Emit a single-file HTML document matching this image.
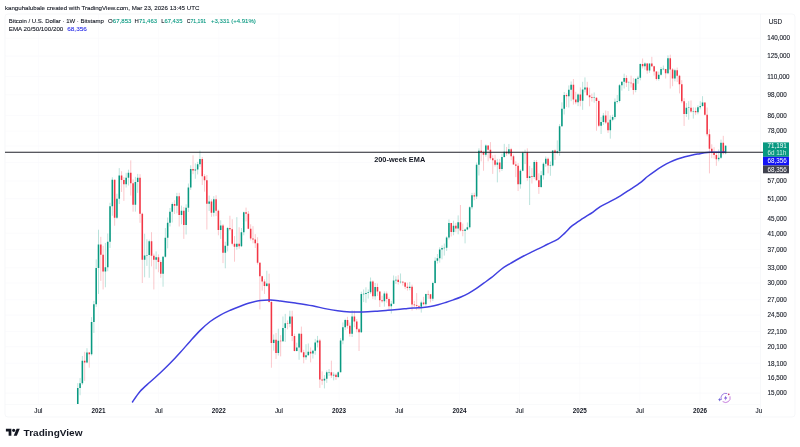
<!DOCTYPE html>
<html lang="en">
<head>
<meta charset="utf-8">
<title>BTCUSD 1W chart</title>
<style>
html,body{margin:0;padding:0;background:#fff;}
body{width:800px;height:447px;overflow:hidden;font-family:"Liberation Sans",sans-serif;}
svg{display:block;}
text{font-family:"Liberation Sans",sans-serif;}
.ax{font-size:6.3px;fill:#131722;stroke:#131722;stroke-width:0.1px;}
.axb{font-size:6.3px;fill:#131722;font-weight:bold;}
.lg{font-size:6.05px;fill:#131722;stroke:#131722;stroke-width:0.1px;}
.lg .g,.lg.g{stroke:#089981;}
.g{fill:#089981;}
.grid line{stroke:#f8f9fb;stroke-width:0.6;}
</style>
</head>
<body>
<svg width="800" height="447" viewBox="0 0 800 447">
<rect width="800" height="447" fill="#ffffff"/>
<!-- chart frame -->
<rect x="5" y="14" width="790" height="403" rx="3" ry="3" fill="#ffffff" stroke="#f2f3f7" stroke-width="0.7"/>
<!-- grid -->
<g class="grid">
<line x1="5" y1="38.20" x2="760" y2="38.20"/>
<line x1="5" y1="56.21" x2="760" y2="56.21"/>
<line x1="5" y1="76.52" x2="760" y2="76.52"/>
<line x1="5" y1="94.88" x2="760" y2="94.88"/>
<line x1="5" y1="115.63" x2="760" y2="115.63"/>
<line x1="5" y1="131.15" x2="760" y2="131.15"/>
<line x1="5" y1="146.09" x2="760" y2="146.09"/>
<line x1="5" y1="162.58" x2="760" y2="162.58"/>
<line x1="5" y1="180.99" x2="760" y2="180.99"/>
<line x1="5" y1="198.66" x2="760" y2="198.66"/>
<line x1="5" y1="218.55" x2="760" y2="218.55"/>
<line x1="5" y1="233.34" x2="760" y2="233.34"/>
<line x1="5" y1="249.65" x2="760" y2="249.65"/>
<line x1="5" y1="267.83" x2="760" y2="267.83"/>
<line x1="5" y1="282.98" x2="760" y2="282.98"/>
<line x1="5" y1="299.72" x2="760" y2="299.72"/>
<line x1="5" y1="315.16" x2="760" y2="315.16"/>
<line x1="5" y1="331.54" x2="760" y2="331.54"/>
<line x1="5" y1="346.61" x2="760" y2="346.61"/>
<line x1="5" y1="363.27" x2="760" y2="363.27"/>
<line x1="5" y1="377.97" x2="760" y2="377.97"/>
<line x1="5" y1="393.12" x2="760" y2="393.12"/>
<line x1="38.35" y1="14" x2="38.35" y2="404"/>
<line x1="98.50" y1="14" x2="98.50" y2="404"/>
<line x1="158.65" y1="14" x2="158.65" y2="404"/>
<line x1="218.80" y1="14" x2="218.80" y2="404"/>
<line x1="278.95" y1="14" x2="278.95" y2="404"/>
<line x1="339.10" y1="14" x2="339.10" y2="404"/>
<line x1="399.25" y1="14" x2="399.25" y2="404"/>
<line x1="459.40" y1="14" x2="459.40" y2="404"/>
<line x1="519.55" y1="14" x2="519.55" y2="404"/>
<line x1="579.70" y1="14" x2="579.70" y2="404"/>
<line x1="639.85" y1="14" x2="639.85" y2="404"/>
<line x1="700.00" y1="14" x2="700.00" y2="404"/>
</g>
<line x1="760.5" y1="14" x2="760.5" y2="417" stroke="#f1f3f7" stroke-width="0.6"/>
<line x1="5" y1="404.5" x2="760" y2="404.5" stroke="#f5f6f9" stroke-width="0.6"/>
<!-- candles -->
<g>
<path d="M77.75 383.16V404.00M80.06 378.17V395.25M82.36 355.97V384.86M86.97 348.20V363.27M91.58 317.12V355.56M93.89 300.90V332.98M96.19 259.39V306.94M98.50 229.70V293.94M105.42 242.93V287.27M107.72 233.53V271.24M110.03 202.76V247.94M112.33 177.27V215.75M116.94 193.75V218.90M119.25 168.14V204.05M126.17 172.84V187.53M128.47 169.69V185.51M135.39 176.86V211.64M137.69 173.90V192.85M144.61 233.73V277.25M146.92 239.26V265.92M149.22 239.67V277.77M156.14 251.38V269.28M163.05 256.23V286.73M165.36 228.01V257.58M167.66 217.49V248.37M169.97 207.96V226.51M172.28 202.44V222.48M176.89 192.85V213.34M181.50 205.67V224.30M186.11 204.37V234.51M188.41 183.52V211.98M190.72 165.34V189.87M195.33 163.33V178.77M197.64 161.84V174.43M199.94 150.63V166.86M209.16 195.57V210.96M213.77 196.19V216.44M220.69 220.32V238.86M225.30 241.69V268.31M227.61 226.88V251.38M236.83 217.14V249.65M241.44 228.01V247.10M243.75 211.64V235.29M266.80 270.75V286.73M273.72 334.44V350.62M278.33 328.69V355.56M282.94 316.46V341.94M285.25 313.87V341.94M289.86 310.68V327.28M296.77 342.71V351.43M299.08 332.98V359.79M306.00 344.26V359.79M308.30 343.48V355.56M312.91 349.81V358.51M315.22 338.90V354.72M317.52 335.91V347.41M324.44 375.11V388.42M326.74 370.45V382.86M329.05 369.08V376.06M333.66 372.30V380.40M338.27 371.37V377.97M340.58 338.15V372.30M342.88 322.46V344.26M345.19 318.77V330.11M352.11 310.37V337.03M361.33 291.69V332.98M363.63 289.46V302.09M365.94 287.27V302.69M368.24 289.46V298.55M370.55 277.51V293.94M375.16 282.98V299.72M384.38 291.41V306.63M391.30 300.90V313.54M393.60 275.48V304.19M395.91 276.24V284.04M400.52 273.47V283.51M409.74 281.92V290.29M421.27 300.60V312.58M425.88 293.66V305.72M432.80 281.66V300.90M435.10 257.35V283.51M437.41 254.01V263.56M439.71 247.31V262.62M442.02 245.41V259.39M444.32 243.54V255.56M446.63 236.27V250.95M448.94 219.43V239.46M453.55 220.68V235.29M458.16 215.40V234.31M465.07 228.57V243.34M467.38 222.48V230.27M469.69 206.32V228.57M471.99 192.85V209.29M476.60 162.58V198.97M478.91 148.34V175.51M485.82 144.42V156.73M497.35 158.90V182.39M501.96 153.65V170.86M504.27 143.86V157.69M508.88 143.98V154.59M520.41 169.17V188.70M522.71 151.78V171.25M525.02 149.71V164.08M529.63 165.84V205.02M534.24 160.12V178.77M541.16 171.12V187.97M543.46 162.33V179.60M545.77 156.49V166.73M550.38 161.47V175.78M552.68 150.56V166.35M557.29 140.37V154.12M559.60 124.17V155.78M561.91 102.34V126.73M564.21 91.98V114.53M568.82 85.43V107.53M571.13 81.51V101.16M578.04 93.42V106.13M582.65 81.81V109.83M584.96 77.39V92.46M594.18 92.46V102.69M601.10 116.93V134.02M603.40 112.88V124.95M610.32 115.45V138.65M612.63 114.71V121.27M614.93 98.48V119.37M617.24 95.04V103.54M619.54 84.06V102.51M621.85 81.51V90.56M624.15 73.66V88.52M628.76 81.21V91.03M635.68 78.70V92.30M637.99 75.80V83.76M640.29 63.36V80.32M644.90 62.30V69.87M649.51 63.49V72.81M658.74 71.68V80.62M661.04 66.99V75.66M663.35 65.50V70.29M667.96 55.32V74.23M674.88 68.77V81.36M686.40 103.03V116.93M688.71 101.16V119.75M693.32 107.35V118.62M697.93 105.26V114.34M700.24 101.16V109.29M702.54 96.18V106.83M718.68 149.48V161.34M720.99 139.62V158.90M725.60 145.05V154.27" stroke="#089981" stroke-width="0.45" fill="none" opacity="0.62"/>
<path d="M77.75 388.11V404.00M80.06 383.26V388.11M82.36 360.65V383.26M86.97 352.57V362.57M91.58 321.98V354.14M93.89 304.19V321.98M96.19 267.88V304.19M98.50 244.58V267.88M105.42 267.35V271.39M107.72 241.82V267.35M110.03 206.32V241.82M112.33 179.87V206.32M116.94 198.66V217.84M119.25 175.51V198.66M126.17 177.68V184.37M128.47 172.84V177.68M135.39 182.11V204.69M137.69 177.68V182.11M144.61 255.56V259.85M146.92 254.89V255.56M149.22 241.29V254.89M156.14 257.13V259.85M163.05 256.68V273.72M165.36 237.86V256.68M167.66 222.84V237.86M169.97 211.64V222.84M172.28 204.05V211.64M176.89 196.34V205.67M181.50 210.80V215.06M186.11 207.63V225.03M188.41 187.53V207.63M190.72 168.91V187.53M195.33 169.43V170.47M197.64 164.33V169.43M199.94 158.90V164.33M209.16 201.49V203.72M213.77 199.28V212.66M220.69 225.40V229.89M225.30 245.83V252.69M227.61 228.01V245.83M236.83 243.75V246.67M241.44 232.18V246.25M243.75 212.32V232.18M266.80 283.51V285.92M273.72 339.65V343.09M278.33 340.79V353.07M282.94 327.98V341.17M285.25 323.14V327.98M289.86 316.46V323.82M296.77 347.41V351.02M299.08 333.71V347.41M306.00 355.14V357.24M308.30 351.84V355.14M312.91 350.86V353.40M315.22 342.48V350.86M317.52 340.41V342.48M324.44 378.65V380.40M326.74 372.30V378.65M329.05 372.08V372.52M333.66 374.83V375.58M338.27 372.30V377.01M340.58 340.56V372.30M342.88 327.28V340.56M345.19 320.10V327.28M352.11 316.46V333.86M361.33 293.94V332.26M363.63 293.72V294.16M365.94 292.98V293.94M368.24 292.13V292.98M370.55 281.40V292.13M375.16 287.00V296.23M384.38 293.54V301.20M391.30 303.65V306.14M393.60 280.51V303.65M395.91 279.73V280.51M400.52 281.70V282.14M409.74 286.84V288.09M421.27 302.51V306.76M425.88 294.00V304.19M432.80 283.03V298.78M435.10 260.77V283.03M437.41 258.35V260.77M439.71 249.39V258.35M442.02 248.11V249.39M444.32 247.70V248.14M446.63 237.38V247.73M448.94 222.88V237.38M453.55 225.77V231.91M458.16 222.34V228.46M465.07 229.40V231.11M467.38 227.33V229.40M469.69 207.30V227.33M471.99 195.15V207.30M476.60 164.73V196.40M478.91 150.72V164.73M485.82 145.46V154.76M497.35 162.56V164.81M501.96 157.02V168.96M504.27 151.78V157.02M508.88 149.16V153.53M520.41 170.73V184.20M522.71 152.57V170.73M525.02 152.24V152.68M529.63 176.26V177.89M534.24 162.04V177.05M541.16 175.16V187.04M543.46 163.63V175.16M545.77 158.66V163.63M550.38 165.25V165.69M552.68 150.56V165.41M557.29 151.13V153.09M559.60 126.33V151.13M561.91 108.67V126.33M564.21 94.88V108.67M568.82 89.77V96.18M571.13 84.67V89.77M578.04 94.39V102.18M582.65 89.61V100.65M584.96 87.59V89.61M594.18 97.60V98.04M601.10 122.04V125.74M603.40 115.45V122.04M610.32 119.84V130.33M612.63 117.12V119.84M614.93 101.84V117.12M617.24 100.99V101.84M619.54 85.28V100.99M621.85 81.66V85.28M624.15 77.97V81.66M628.76 82.64V83.08M635.68 78.85V90.08M637.99 77.68V78.85M640.29 63.89V77.68M644.90 63.49V66.31M649.51 63.62V70.57M658.74 74.87V79.07M661.04 69.04V74.87M663.35 68.82V69.26M667.96 58.13V73.37M674.88 70.15V78.41M686.40 107.70V113.98M688.71 107.48V107.92M693.32 110.90V111.62M697.93 107.18V112.34M700.24 105.95V107.18M702.54 102.51V105.95M718.68 157.69V159.14M720.99 142.63V157.69M725.60 145.66V153.29" stroke="#089981" stroke-width="1.55" fill="none"/>
<path d="M84.67 351.84V380.89M89.28 352.08V367.72M100.81 236.87V280.87M103.11 245.83V289.46M114.64 179.60V225.77M121.56 171.25V191.95M123.86 177.13V200.86M130.78 160.36V195.57M133.08 179.32V211.64M140.00 174.17V222.84M142.30 212.66V282.98M151.53 232.18V266.39M153.83 253.57V289.46M158.44 254.45V272.23M160.75 260.31V277.77M174.58 200.23V214.02M179.19 192.85V226.51M183.80 206.97V238.86M193.03 155.30V174.17M202.25 156.97V184.94M204.55 174.17V191.65M206.86 174.97V229.51M211.47 199.28V216.79M216.08 195.27V216.10M218.39 209.62V235.29M223.00 223.94V263.09M229.91 215.75V230.65M232.22 219.26V245.41M234.52 236.08V261.69M239.14 227.26V248.80M246.05 207.63V221.40M248.36 210.96V229.13M250.66 224.30V240.47M252.97 226.14V243.34M255.27 234.12V247.94M257.58 237.26V264.50M259.88 262.16V309.43M262.19 275.73V290.57M264.50 279.31V293.94M269.11 273.72V302.69M271.41 299.72V367.72M276.02 332.98V358.94M280.63 335.18V356.39M287.55 320.43V329.40M292.16 310.68V341.17M294.47 333.71V351.43M301.38 326.58V353.07M303.69 349.81V363.27M310.61 347.41V362.39M319.83 338.90V387.91M322.13 371.37V384.86M331.36 360.65V377.97M335.97 373.23V379.91M347.49 316.79V328.69M349.80 322.46V336.65M354.41 310.68V327.28M356.72 319.10V332.26M359.02 327.98V351.02M372.85 280.35V299.13M377.47 283.51V295.94M379.77 291.52V306.94M382.08 295.65V302.69M386.69 291.41V302.69M388.99 297.38V309.74M398.21 275.22V284.57M402.83 281.13V285.65M405.13 282.45V289.19M407.44 282.71V290.57M412.05 284.57V310.68M414.35 300.90V307.25M416.66 293.09V310.05M418.96 305.11V309.74M423.58 296.80V305.41M428.19 290.57V298.84M430.49 293.94V302.39M451.24 222.84V236.47M455.85 222.84V232.18M460.46 205.02V231.41M462.77 223.57V236.27M474.30 192.70V200.23M481.21 139.94V161.34M483.52 150.74V170.73M488.13 145.26V161.34M490.44 142.11V159.87M492.74 155.30V173.90M495.05 154.71V166.60M499.66 158.90V172.31M506.57 146.98V156.01M511.18 147.89V160.12M513.49 154.59V164.58M515.80 161.34V177.13M518.10 163.08V191.06M527.32 148.34V180.71M531.93 168.14V183.52M536.54 160.12V180.43M538.85 173.37V193.90M548.07 157.45V173.37M554.99 149.48V159.87M566.52 93.26V107.00M573.43 79.00V104.57M575.74 91.82V104.23M580.35 87.43V106.30M587.27 81.81V95.36M589.57 87.74V106.30M591.88 93.58V101.50M596.49 97.33V130.74M598.79 99.65V127.12M605.71 110.54V123.98M608.02 111.08V132.99M626.46 75.37V86.97M631.07 75.66V87.59M633.38 77.97V94.55M642.60 58.51V68.49M647.21 62.96V73.80M651.82 56.84V66.99M654.13 65.77V75.66M656.43 71.26V80.47M665.65 68.91V78.56M670.26 54.69V88.52M672.57 68.08V86.20M677.18 67.53V81.96M679.49 74.80V93.42M681.79 80.17V103.20M684.10 98.15V125.94M691.01 100.49V112.70M695.62 107.53V114.89M704.85 102.51V115.63M707.15 107.53V136.32M709.46 129.12V173.37M711.76 144.31V158.17M714.07 147.21V158.66M716.37 151.55V165.84M723.29 135.84V154.59" stroke="#f23645" stroke-width="0.45" fill="none" opacity="0.62"/>
<path d="M84.67 360.65V362.57M89.28 352.57V354.14M100.81 244.58V254.76M103.11 254.76V271.39M114.64 179.87V217.84M121.56 175.51V180.01M123.86 180.01V184.37M130.78 172.84V183.23M133.08 183.23V204.69M140.00 177.68V213.68M142.30 213.68V259.85M151.53 241.29V255.78M153.83 255.78V259.85M158.44 257.13V261.92M160.75 261.92V273.72M174.58 204.05V205.67M179.19 196.34V215.06M183.80 210.80V225.03M193.03 168.91V170.47M202.25 158.90V176.32M204.55 176.32V180.15M206.86 180.15V203.72M211.47 201.49V212.66M216.08 199.28V210.63M218.39 210.63V229.89M223.00 225.40V252.69M229.91 228.01V229.13M232.22 229.13V243.75M234.52 243.75V246.67M239.14 243.75V246.25M246.05 212.32V213.68M248.36 213.68V228.76M250.66 228.76V238.46M252.97 238.46V239.46M255.27 239.46V243.34M257.58 243.34V262.85M259.88 262.85V276.24M262.19 276.24V281.40M264.50 281.40V285.92M269.11 283.51V302.09M271.41 302.09V343.09M276.02 339.65V353.07M280.63 340.76V341.20M287.55 323.14V323.82M292.16 316.46V335.91M294.47 335.91V351.02M301.38 333.71V352.25M303.69 352.25V357.24M310.61 351.84V353.40M319.83 340.41V379.62M322.13 379.62V380.40M331.36 372.30V375.58M335.97 374.83V377.01M347.49 320.10V325.68M349.80 325.68V333.86M354.41 316.46V321.44M356.72 321.44V329.18M359.02 329.18V332.26M372.85 281.40V296.23M377.47 287.00V291.52M379.77 291.52V300.19M382.08 300.19V301.20M386.69 293.54V299.01M388.99 299.01V306.14M398.21 279.73V282.08M402.83 281.76V282.55M405.13 282.55V286.84M407.44 286.84V288.09M412.05 286.84V304.56M414.35 304.56V305.17M416.66 305.17V305.90M418.96 305.90V306.76M423.58 302.51V304.19M428.19 293.95V294.39M430.49 294.34V298.78M451.24 222.88V231.91M455.85 225.77V228.46M460.46 222.34V230.54M462.77 230.54V231.11M474.30 195.15V196.40M481.21 150.72V152.04M483.52 152.04V154.76M488.13 145.46V149.80M490.44 149.80V158.32M492.74 158.32V160.24M495.05 160.24V164.81M499.66 162.56V168.96M506.57 151.78V153.53M511.18 149.16V156.16M513.49 156.16V164.58M515.80 164.58V165.66M518.10 165.66V184.20M527.32 152.34V177.89M531.93 176.26V177.05M536.54 162.04V180.15M538.85 180.15V187.04M548.07 158.66V165.54M554.99 150.56V153.09M566.52 94.88V96.18M573.43 84.67V99.48M575.74 99.48V102.18M580.35 94.39V100.65M587.27 87.59V95.36M589.57 95.36V97.33M591.88 97.33V97.99M596.49 97.66V100.99M598.79 100.99V125.74M605.71 115.45V122.43M608.02 122.43V130.33M626.46 77.97V82.86M631.07 82.79V83.23M633.38 83.16V90.08M642.60 63.89V66.31M647.21 63.49V70.57M651.82 63.62V66.18M654.13 66.18V71.54M656.43 71.54V79.07M665.65 69.04V73.37M670.26 58.13V69.46M672.57 69.46V78.41M677.18 70.15V75.80M679.49 75.80V84.37M681.79 84.37V101.16M684.10 101.16V113.98M691.01 107.70V111.62M695.62 110.90V112.34M704.85 102.51V114.80M707.15 114.80V134.34M709.46 134.34V148.64M711.76 148.64V151.95M714.07 151.95V154.95M716.37 154.95V159.14M723.29 142.63V153.29" stroke="#f23645" stroke-width="1.55" fill="none"/>
</g>
<!-- EMA 200 -->
<path d="M132.50 402.00C133.75 400.24 137.07 394.77 140.00 391.44C142.93 388.10 146.75 385.05 150.10 381.98C153.45 378.91 156.77 376.14 160.10 373.03C163.43 369.92 166.75 366.74 170.10 363.32C173.45 359.90 176.85 356.21 180.20 352.51C183.55 348.82 186.87 344.84 190.20 341.15C193.53 337.46 196.87 333.63 200.20 330.36C203.53 327.09 206.85 324.07 210.20 321.52C213.55 318.98 216.95 316.96 220.30 315.08C223.65 313.21 226.97 311.75 230.30 310.27C233.63 308.78 236.97 307.44 240.30 306.18C243.63 304.91 246.95 303.65 250.30 302.71C253.65 301.76 257.05 300.96 260.40 300.51C263.75 300.06 267.07 299.93 270.40 300.01C273.73 300.08 276.23 300.47 280.40 300.98C284.57 301.48 290.05 302.24 295.40 303.05C300.75 303.86 307.57 304.88 312.50 305.81C317.43 306.74 320.82 307.79 325.00 308.62C329.18 309.46 333.42 310.25 337.60 310.79C341.78 311.34 345.92 311.69 350.10 311.89C354.28 312.08 358.52 312.04 362.70 311.95C366.88 311.86 371.03 311.60 375.20 311.34C379.37 311.07 383.57 310.71 387.70 310.37C391.83 310.03 396.68 309.64 400.00 309.32C403.32 309.00 405.07 308.70 407.60 308.46C410.13 308.22 412.67 308.07 415.20 307.89C417.73 307.71 420.27 307.61 422.80 307.38C425.33 307.14 427.85 306.89 430.40 306.46C432.95 306.02 435.55 305.44 438.10 304.78C440.65 304.11 443.17 303.28 445.70 302.46C448.23 301.63 450.77 300.76 453.30 299.84C455.83 298.92 458.37 298.02 460.90 296.94C463.43 295.86 465.97 294.73 468.50 293.36C471.03 291.98 473.57 290.40 476.10 288.71C478.63 287.02 481.17 285.05 483.70 283.21C486.23 281.37 489.02 279.44 491.30 277.66C493.58 275.87 495.32 274.19 497.40 272.49C499.48 270.78 501.28 269.13 503.80 267.42C506.32 265.72 509.58 263.93 512.50 262.24C515.42 260.54 518.38 258.83 521.30 257.26C524.22 255.68 527.08 254.24 530.00 252.81C532.92 251.38 535.88 250.10 538.80 248.68C541.72 247.26 544.30 245.88 547.50 244.27C550.70 242.66 555.08 240.92 558.00 239.02C560.92 237.11 562.67 235.02 565.00 232.84C567.33 230.66 569.08 228.30 572.00 225.94C574.92 223.59 579.00 221.03 582.50 218.72C586.00 216.40 590.03 214.09 593.00 212.06C595.97 210.03 597.42 208.30 600.30 206.53C603.18 204.77 606.95 203.25 610.30 201.46C613.65 199.67 617.05 197.81 620.40 195.78C623.75 193.75 627.07 191.48 630.40 189.29C633.73 187.10 637.55 184.77 640.40 182.64C643.25 180.51 645.07 178.43 647.50 176.49C649.93 174.56 652.50 172.73 655.00 171.01C657.50 169.29 660.00 167.65 662.50 166.17C665.00 164.68 667.50 163.30 670.00 162.10C672.50 160.90 675.00 159.87 677.50 158.97C680.00 158.08 682.50 157.38 685.00 156.72C687.50 156.06 690.00 155.52 692.50 155.01C695.00 154.51 698.00 154.05 700.00 153.69C702.00 153.32 702.75 153.04 704.50 152.82C706.25 152.60 707.08 152.48 710.50 152.36C713.92 152.24 722.58 152.14 725.00 152.10" fill="none" stroke="#4040e0" stroke-width="1.5" stroke-linejoin="round" stroke-linecap="round"/>
<!-- horizontal line -->
<line x1="5" y1="152.25" x2="763" y2="152.25" stroke="#20222b" stroke-width="1.05"/>
<text x="374.2" y="162" font-size="7.3" font-weight="bold" fill="#131722" textLength="51" lengthAdjust="spacingAndGlyphs">200-week EMA</text>
<!-- header -->
<text x="4.9" y="9.6" font-size="6.15" fill="#131722" stroke="#131722" stroke-width="0.1" textLength="194.5" lengthAdjust="spacingAndGlyphs">kanguhalubale created with TradingView.com, Mar 23, 2026 13:45 UTC</text>
<!-- legend -->
<text class="lg" x="8.8" y="23" textLength="95" lengthAdjust="spacingAndGlyphs">Bitcoin / U.S. Dollar · 1W · Bitstamp</text>
<text class="lg" x="108.1" y="23" textLength="23.3" lengthAdjust="spacingAndGlyphs">O<tspan class="g">67,853</tspan></text>
<text class="lg" x="134.6" y="23" textLength="22.4" lengthAdjust="spacingAndGlyphs">H<tspan class="g">71,463</tspan></text>
<text class="lg" x="161.2" y="23" textLength="21.2" lengthAdjust="spacingAndGlyphs">L<tspan class="g">67,435</tspan></text>
<text class="lg" x="186.7" y="23" textLength="19.5" lengthAdjust="spacingAndGlyphs">C<tspan class="g">71,191</tspan></text>
<text class="lg g" x="210.9" y="23" textLength="44.9" lengthAdjust="spacingAndGlyphs">+3,331 (+4.91%)</text>
<text class="lg" x="8.8" y="31" textLength="54.5" lengthAdjust="spacingAndGlyphs">EMA 20/50/100/200</text>
<text class="lg" x="67.2" y="31" fill="#2a2ee8" style="fill:#2a2ee8;stroke:#2a2ee8" textLength="19.7" lengthAdjust="spacingAndGlyphs">68,356</text>
<!-- price axis -->
<text class="ax" x="768.8" y="23.5">USD</text>
<text class="ax" x="767.3" y="40.45">140,000</text>
<text class="ax" x="767.3" y="58.46">125,000</text>
<text class="ax" x="767.3" y="78.77">110,000</text>
<text class="ax" x="767.6" y="97.13">98,000</text>
<text class="ax" x="767.6" y="117.88">86,000</text>
<text class="ax" x="767.6" y="133.40">78,000</text>
<text class="ax" x="767.6" y="183.24">57,000</text>
<text class="ax" x="767.6" y="200.91">51,000</text>
<text class="ax" x="767.6" y="220.80">45,000</text>
<text class="ax" x="767.6" y="235.59">41,000</text>
<text class="ax" x="767.6" y="251.90">37,000</text>
<text class="ax" x="767.6" y="270.08">33,000</text>
<text class="ax" x="767.6" y="285.23">30,000</text>
<text class="ax" x="767.6" y="301.97">27,000</text>
<text class="ax" x="767.6" y="317.41">24,500</text>
<text class="ax" x="767.6" y="333.79">22,100</text>
<text class="ax" x="767.6" y="348.86">20,100</text>
<text class="ax" x="767.6" y="365.52">18,100</text>
<text class="ax" x="767.6" y="380.22">16,500</text>
<text class="ax" x="767.6" y="395.37">15,000</text>
<!-- price tags -->
<rect x="763" y="142.4" width="26" height="14.4" fill="#089981"/>
<text x="767.5" y="148.2" font-size="6.3" fill="#ffffff">71,191</text>
<text x="767.5" y="155" font-size="6.3" fill="#c9efe6">6d 11h</text>
<rect x="763" y="156.8" width="26" height="8.7" fill="#1414f5"/>
<text x="767.5" y="163.4" font-size="6.3" fill="#ffffff">68,356</text>
<rect x="763" y="165.5" width="26" height="7.8" fill="#40424f"/>
<text x="767.5" y="171.7" font-size="6.3" fill="#ffffff">68,356</text>
<!-- time axis -->
<text class="ax" x="38.3" y="413.3" text-anchor="middle">Jul</text>
<text class="axb" x="98.5" y="413.3" text-anchor="middle">2021</text>
<text class="ax" x="158.7" y="413.3" text-anchor="middle">Jul</text>
<text class="axb" x="218.8" y="413.3" text-anchor="middle">2022</text>
<text class="ax" x="279.0" y="413.3" text-anchor="middle">Jul</text>
<text class="axb" x="339.1" y="413.3" text-anchor="middle">2023</text>
<text class="ax" x="399.3" y="413.3" text-anchor="middle">Jul</text>
<text class="axb" x="459.4" y="413.3" text-anchor="middle">2024</text>
<text class="ax" x="519.6" y="413.3" text-anchor="middle">Jul</text>
<text class="axb" x="579.7" y="413.3" text-anchor="middle">2025</text>
<text class="ax" x="639.9" y="413.3" text-anchor="middle">Jul</text>
<text class="axb" x="700.0" y="413.3" text-anchor="middle">2026</text>
<text class="ax" x="755.6" y="413.3">Ju</text>
<!-- replay/flash icon -->
<g transform="translate(725.6 397.9)" fill="none" stroke-linecap="round">
<path d="M-4.4 1.6A4.7 4.7 0 0 1 1.2 -4.5" stroke="#7a4bd6" stroke-width="0.7"/>
<path d="M4.5 -1.2A4.7 4.7 0 0 1 -2.6 3.9" stroke="#b04ad0" stroke-width="0.7"/>
<path d="M0.7 -2.7L-1.6 0.5H0.1L-0.7 2.8L1.7 -0.5H0z" fill="#6a3fd0" stroke="none"/>
<path d="M-5.9 -0.1L-5.35 1.25L-4 1.8L-5.35 2.35L-5.9 3.7L-6.45 2.35L-7.8 1.8L-6.45 1.25z" fill="#6a5fd8" stroke="none"/>
<circle cx="3.1" cy="-3.6" r="0.85" fill="#c43a78" stroke="none"/>
</g>
<!-- TradingView logo -->
<g transform="translate(5.9 427.2) scale(0.39)" fill="#131722">
<path d="M14 22H7V11H0V4h14v18zM28 22h-8l7.5-18h8L28 22z"/>
<circle cx="20" cy="8" r="4"/>
</g>
<text x="23.6" y="435.6" font-size="9.9" font-weight="bold" fill="#131722" textLength="58.9" lengthAdjust="spacingAndGlyphs">TradingView</text>
</svg>
</body>
</html>
